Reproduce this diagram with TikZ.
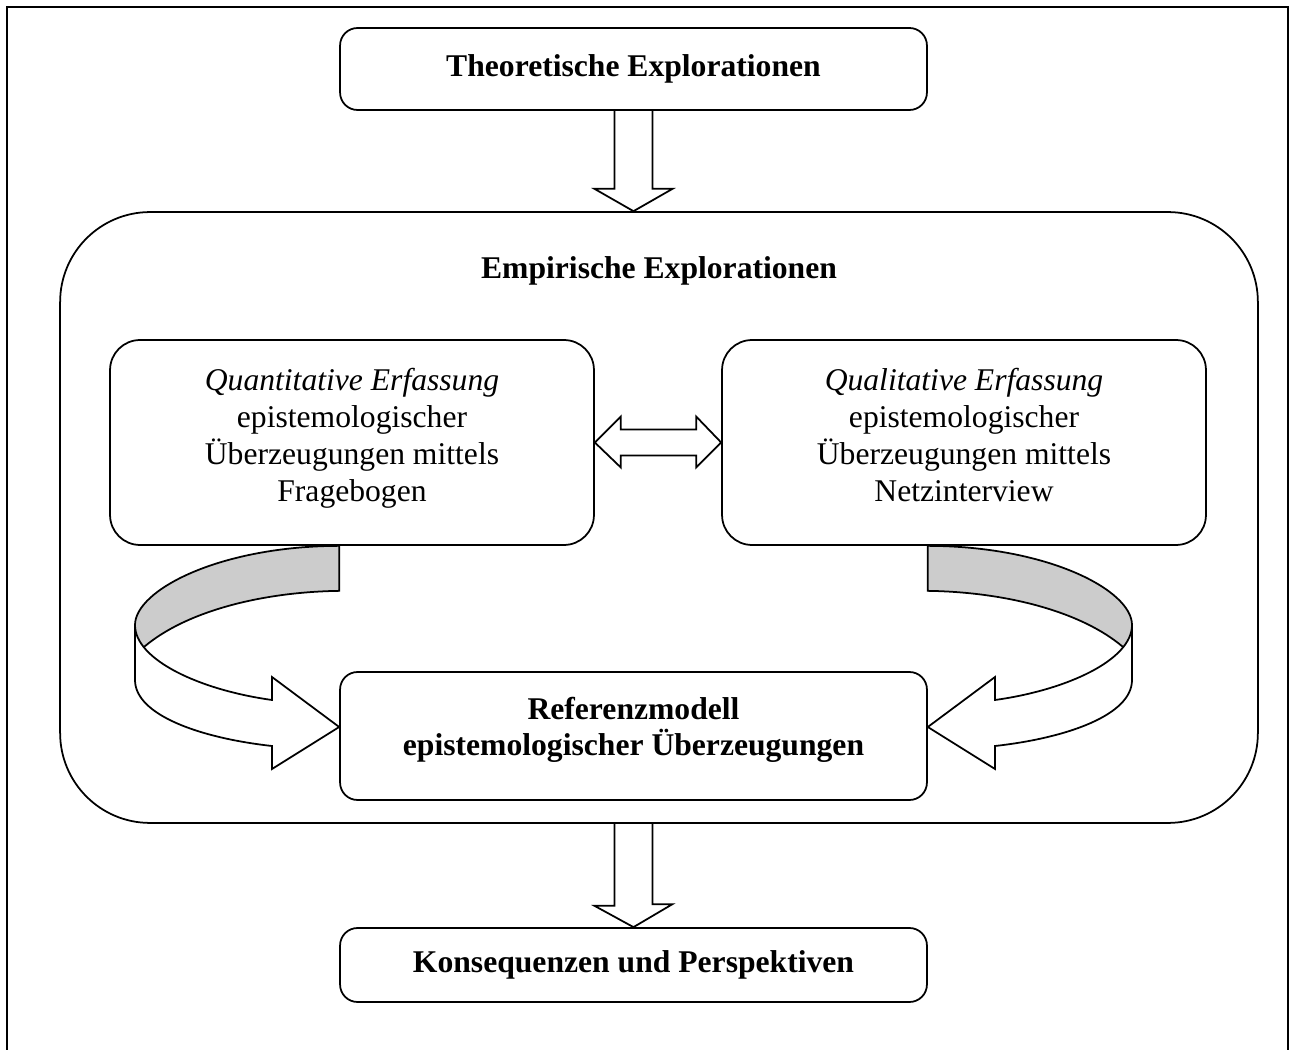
\documentclass[tikz,border=0pt]{standalone}
\usepackage{fontspec}
\setmainfont{Liberation Serif}
\usetikzlibrary{calc}
\tikzstyle{titlebox} = [rectangle, rounded corners=0.35cm, minimum width=11.74cm, align=center, draw=black, line width=1pt, font=\bfseries]
\tikzstyle{methodbox} = [rectangle, rounded corners=0.6cm, minimum width=9.68cm, minimum height=4.1cm, align=center, text depth=8.5pt, draw=black, line width=1pt]
\tikzstyle{outerbox} = [rectangle, rounded corners=1.8cm, minimum width=23.96cm, minimum height=12.22cm, draw=black, line width=1pt]
\tikzstyle{blockarrow} = [draw=black, line width=1pt, line join=miter]
\tikzstyle{ribbonback} = [draw=black, fill=gray!40, line width=1pt]
\tikzstyle{ribbonfront} = [draw=black, fill=white, line width=1pt, line join=miter]

\begin{document}
\fontsize{18}{21}\selectfont
\begin{tikzpicture}[x=0.02cm, y=-0.02cm]

\useasboundingbox (0,0) rectangle (1295,1050);
\draw [line width=1.2pt] (7,1050) -- (7,7) -- (1288,7) -- (1288,1050);

\node (theo) [titlebox, minimum height=1.64cm] at (633.5,69) {Theoretische Explorationen};
\node (empir) [outerbox] at (659,517.5) {};
\node (emptitle) [font=\bfseries] at ($(empir.north)+(0,60)$) {Empirische Explorationen};
\node (quant) [methodbox] at (352,442.5) {\textit{Quantitative Erfassung}\\epistemologischer\\Überzeugungen mittels\\Fragebogen};
\node (qual) [methodbox] at (964,442.5) {\textit{Qualitative Erfassung}\\epistemologischer\\Überzeugungen mittels\\Netzinterview};
\node (ref) [titlebox, minimum height=2.56cm, text depth=11pt] at (633.5,736) {Referenzmodell\\epistemologischer Überzeugungen};
\node (kons) [titlebox, minimum height=1.48cm] at (633.5,965) {Konsequenzen und Perspektiven};

% block arrows
\draw [blockarrow] ($(theo.south)+(-19,0)$) -- ++(0,78) -- ++(-20,0) -- (theo.south |- empir.north) -- ($(theo.south)+(39,78)$) -- ++(-20,0) -- ($(theo.south)+(19,0)$);
\draw [blockarrow] ($(kons.north |- empir.south)+(-19,0)$) -- ++(0,82) -- ++(-20,0) -- (kons.north) -- ($(kons.north)+(39,-23)$) -- ++(-20,0) -- ($(kons.north |- empir.south)+(19,0)$);
\draw [blockarrow] (quant.east) -- ++(26,-26) -- ++(0,13) -- ($(qual.west)+(-25,-13)$) -- ++(0,-13) -- (qual.west) -- ++(-25,25) -- ++(0,-12) -- ($(quant.east)+(26,13)$) -- ++(0,12) -- cycle;

% curved arrows
\coordinate (lstart) at (ref.west |- quant.south);
\coordinate (ltip) at ($(ref.west)+(0,-9)$);
\coordinate (rstart) at (ref.east |- qual.south);
\coordinate (rtip) at ($(ref.east)+(0,-9)$);

\draw [ribbonback] (lstart) .. controls (220,546) and (135,590) .. (135,625) -- (135,670) -- (144,647) .. controls (185,612) and (260,592) .. ($(lstart)+(0,45)$) -- cycle;
\draw [ribbonfront] (135,625) .. controls (135,660) and (200,690) .. (272,700) -- (272,677) -- (ltip) -- (272,769) -- (272,746) .. controls (200,738) and (135,715) .. (135,680) -- cycle;

\draw [ribbonback] (rstart) .. controls (1047,546) and (1132,590) .. (1132,625) -- (1132,670) -- (1123,647) .. controls (1082,612) and (1007,592) .. ($(rstart)+(0,45)$) -- cycle;
\draw [ribbonfront] (1132,625) .. controls (1132,660) and (1067,690) .. (995,700) -- (995,677) -- (rtip) -- (995,769) -- (995,746) .. controls (1067,738) and (1132,715) .. (1132,680) -- cycle;

\end{tikzpicture}
\end{document}
